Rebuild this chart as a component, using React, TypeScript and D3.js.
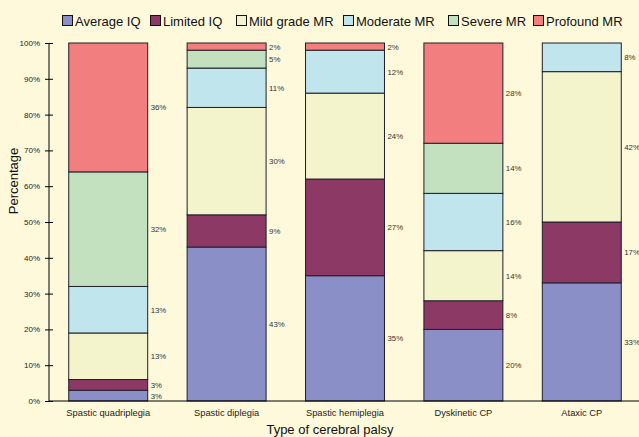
import React, { useEffect, useRef } from 'react';
import * as d3 from 'd3';

const categories = ['Spastic quadriplegia', 'Spastic diplegia', 'Spastic hemiplegia', 'Dyskinetic CP', 'Ataxic CP'];
const seriesNames = ['Average IQ', 'Limited IQ', 'Mild grade MR', 'Moderate MR', 'Severe MR', 'Profound MR'];
const seriesColors = ['#8a8fc7', '#8d3966', '#f3f4cc', '#c1e5ed', '#c3e1bf', '#f37e80'];

const averageIQ = [3, 43, 35, 20, 33];
const limitedIQ = [3, 9, 27, 8, 17];
const mildMR = [13, 30, 24, 14, 42];
const moderateMR = [13, 11, 12, 16, 8];
const severeMR = [32, 5, 0, 14, 0];
const profoundMR = [36, 2, 2, 28, 0];

const yTicks = [0, 10, 20, 30, 40, 50, 60, 70, 80, 90, 100];

export default function App() {
  const ref = useRef<SVGSVGElement>(null);

  useEffect(() => {
    const W = 639, H = 437;
    const left = 49, top = 43, bottom = 401, right = 641;
    const font = 'Liberation Sans, Arial, sans-serif';
    const svg = d3.select(ref.current);
    svg.selectAll('*').remove();

    svg.append('rect').attr('width', W).attr('height', H).attr('fill', '#fef9db');

    const allSeries = [averageIQ, limitedIQ, mildMR, moderateMR, severeMR, profoundMR];
    const table = categories.map((c, i) => {
      const row: any = { cat: c };
      seriesNames.forEach((s, j) => { row[s] = allSeries[j][i]; });
      return row;
    });
    const stacked = d3.stack().keys(seriesNames)(table);

    const x = d3.scaleBand().domain(categories).range([left, right]).paddingInner(0.333).paddingOuter(0.1667);
    const y = d3.scaleLinear().domain([0, 100]).range([bottom, top]);

    // bars + value labels
    stacked.forEach((layer, j) => {
      const g = svg.append('g');
      layer.forEach((d, i) => {
        if (d[1] - d[0] <= 0) return;
        g.append('rect')
          .attr('x', x(categories[i])!)
          .attr('y', y(d[1]))
          .attr('width', x.bandwidth())
          .attr('height', y(d[0]) - y(d[1]))
          .attr('fill', seriesColors[j])
          .attr('stroke', '#1f1f2a')
          .attr('stroke-width', 1);
        g.append('text')
          .attr('x', x(categories[i])! + x.bandwidth() + 3)
          .attr('y', (y(d[0]) + y(d[1])) / 2 + 3)
          .attr('font-family', font)
          .attr('font-size', 7.8)
          .attr('fill', '#333')
          .text(`${d[1] - d[0]}%`);
      });
    });

    // axes
    const yAxis = svg.append('g').attr('transform', `translate(${left},0)`)
      .call(d3.axisLeft(y).tickValues(yTicks).tickFormat(d => `${d}%`).tickSize(4).tickPadding(5));
    yAxis.selectAll('.tick line').attr('x2', 4).attr('x1', -4).attr('stroke', '#000');
    yAxis.select('.domain').remove();
    yAxis.append('line').attr('x1', 0).attr('x2', 0).attr('y1', top).attr('y2', bottom).attr('stroke', '#000');
    yAxis.selectAll('text').attr('font-family', font).attr('font-size', 8).attr('fill', '#222');

    svg.append('line').attr('x1', left).attr('x2', W).attr('y1', bottom).attr('y2', bottom).attr('stroke', '#000');

    const xAxis = svg.append('g').attr('transform', `translate(0,${bottom})`)
      .call(d3.axisBottom(x).tickSize(0).tickPadding(8));
    xAxis.select('.domain').remove();
    xAxis.selectAll('text').attr('font-family', font).attr('font-size', 9.3).attr('fill', '#222');

    // titles
    svg.append('text').attr('x', 330).attr('y', 434).attr('text-anchor', 'middle')
      .attr('font-family', font).attr('font-size', 13).attr('fill', '#111')
      .text('Type of cerebral palsy');
    svg.append('text').attr('transform', 'translate(18,181) rotate(-90)').attr('text-anchor', 'middle')
      .attr('font-family', font).attr('font-size', 13).attr('fill', '#111')
      .text('Percentage');

    // legend
    const legendX = [62, 150, 236, 343, 448, 533];
    seriesNames.forEach((s, j) => {
      const g = svg.append('g').attr('transform', `translate(${legendX[j]},15)`);
      g.append('rect').attr('x', 0.5).attr('y', 0.5).attr('width', 10).attr('height', 10)
        .attr('fill', seriesColors[j]).attr('stroke', '#111');
      g.append('text').attr('x', 13).attr('y', 10.5)
        .attr('font-family', font).attr('font-size', 13).attr('fill', '#111')
        .text(s);
    });
  }, []);

  return <svg ref={ref} width={639} height={437} style={{ display: 'block', position: 'absolute', left: 0, top: 0 }} />;
}
